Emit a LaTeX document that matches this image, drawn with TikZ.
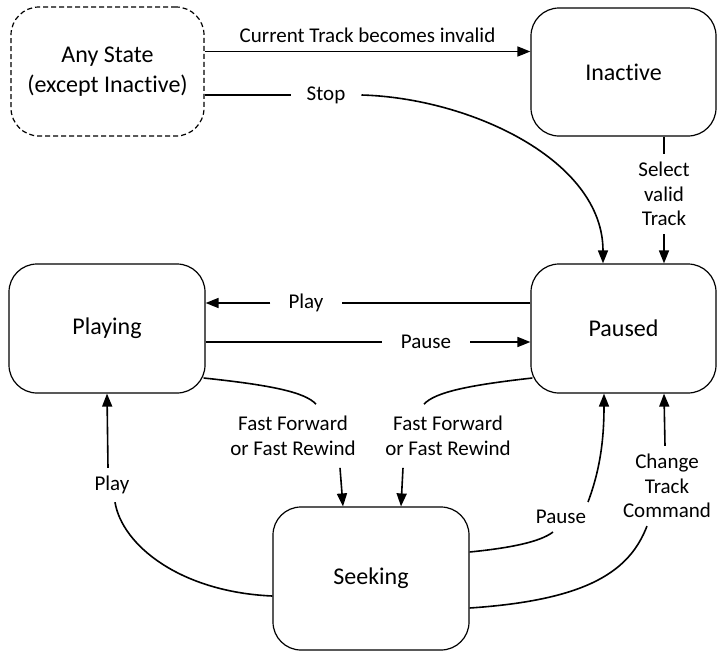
\documentclass[tikz,border=0pt]{standalone}
\usepackage{fontspec}
\setmainfont{Carlito}[Ligatures=NoCommon]
\usetikzlibrary{arrows.meta}

\begin{document}
\begin{tikzpicture}[x=1pt,y=-1pt,
		state/.style={draw,line width=1.2pt,rounded corners=28pt,align=center,inner sep=0pt,font=\fontsize{24}{30}\selectfont},
		lbl/.style={align=center,inner xsep=16pt,inner ysep=8pt,font=\fontsize{21}{24.5}\selectfont},
		edge/.style={line width=1.6pt},
		arr/.style={edge,-{Triangle[length=13pt,width=10pt]}}]
			\useasboundingbox (0,0) rectangle (718,651);
			
			\node[state,dash pattern=on 5pt off 3pt,minimum width=193pt,minimum height=129pt] (any) at (107.5,71.5) {Any State\\(except Inactive)};
			\node[state,minimum width=185pt,minimum height=128pt] (inactive) at (623.5,72) {Inactive};
			\node[state,minimum width=196pt,minimum height=129pt] (playing) at (107,328.5) {Playing};
			\node[state,minimum width=185pt,minimum height=129pt] (paused) at (623.5,328.5) {Paused};
			\node[state,minimum width=196pt,minimum height=143pt] (seeking) at (371,578.5) {Seeking};
			
			\draw[arr] ([yshift=20pt]any.east) -- ([yshift=20pt]any.east -| inactive.west) node[lbl,midway,above,inner ysep=8pt]{Current Track becomes invalid};
			
			\node[lbl] (stop) at (326,95) {Stop};
			\draw[edge] (stop.west -| any.east) -- (stop.west);
			\draw[arr] (stop.east) .. controls (470,98) and (603,160) .. ([xshift=-20.5pt]paused.north);
			
			\node[lbl] (select) at (664,194) {Select\\valid\\Track};
			\draw[edge] (select.north |- inactive.south) -- (select.north);
			\draw[arr] (select.south) -- (select.south |- paused.north);
			
			\node[lbl,inner xsep=18pt] (playtop) at (306,303) {Play};
			\draw[edge] (paused.west |- playtop) -- (playtop);
			\draw[arr] (playtop) -- (playing.east |- playtop);
			
			\node[lbl,inner xsep=19pt] (pausetop) at (426,342) {Pause};
			\draw[edge] (playing.east |- pausetop) -- (pausetop);
			\draw[arr] (pausetop) -- (paused.west |- pausetop);
			
			\node[lbl,inner ysep=12pt] (ffl) at (293,436) {Fast Forward\\or Fast Rewind};
			\node[lbl,inner ysep=12pt] (ffr) at (448,436) {Fast Forward\\or Fast Rewind};
			\draw[edge] ([xshift=-2pt,yshift=-49.5pt]playing.east) .. controls (270,385) and (305,392) .. ([xshift=23pt]ffl.north);
			\draw[arr] ([xshift=47pt]ffl.south) -- ([xshift=-28pt]seeking.north);
			\draw[edge] ([xshift=2pt,yshift=-49.5pt]paused.west) .. controls (470,385) and (435,392) .. ([xshift=-24pt]ffr.north);
			\draw[arr] ([xshift=-45pt]ffr.south) -- ([xshift=30pt]seeking.north);
			
			\node[lbl] (playbot) at (112,485) {Play};
			\draw[arr] ([xshift=-4pt]playbot.north) -- (playing.south);
			\draw[edge] ([yshift=-17.5pt]seeking.west) .. controls (180,592) and (122,545) .. ([xshift=3pt]playbot.south);
			
			\node[lbl] (pausebot) at (561,517) {Pause};
			\draw[edge] ([yshift=26.5pt]seeking.east) .. controls (510,548) and (540,542) .. ([xshift=-8pt]pausebot.south);
			\draw[arr] ([xshift=27pt]pausebot.north) .. controls (600,470) and (604,440) .. ([xshift=-19.5pt]paused.south);
			
			\node[lbl] (change) at (667,486) {Change\\Track\\Command};
			\draw[arr] ([xshift=-2pt]change.north) -- ([xshift=40.5pt]paused.south);
			\draw[edge] ([yshift=-29.5pt]seeking.east) .. controls (590,600) and (630,570) .. ([xshift=-20pt]change.south);
		\end{tikzpicture}
\end{document}
